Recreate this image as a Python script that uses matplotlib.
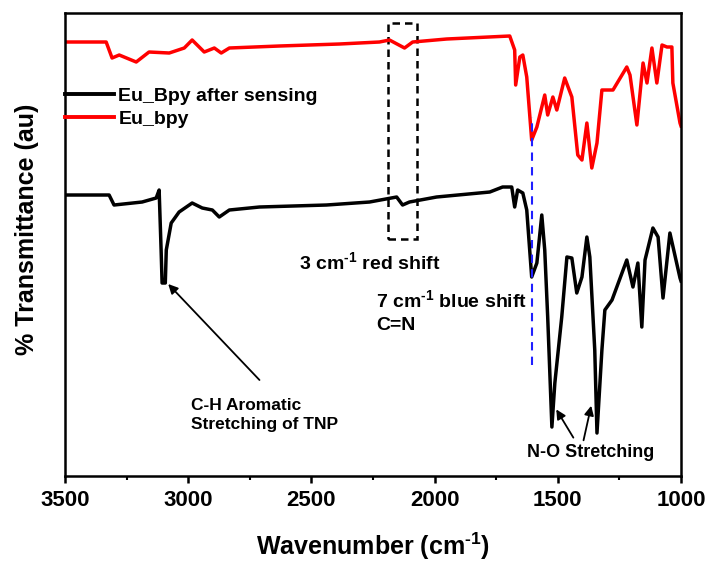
import matplotlib
matplotlib.use("Agg")
import matplotlib.pyplot as plt
from matplotlib.ticker import MultipleLocator
from matplotlib.patches import Rectangle

plt.rcParams['font.family'] = ['Liberation Sans', 'DejaVu Sans']
plt.rcParams['font.weight'] = 'bold'
plt.rcParams['mathtext.fontset'] = 'custom'
plt.rcParams['mathtext.rm'] = 'Liberation Sans:bold'
plt.rcParams['mathtext.bf'] = 'Liberation Sans:bold'
plt.rcParams['mathtext.it'] = 'Liberation Sans:bold'
plt.rcParams['mathtext.default'] = 'bf'

# Eu_bpy (red)
red_wn = [3500, 3333, 3309, 3280, 3211, 3159, 3077, 3016, 2984, 2935, 2894, 2866, 2833,
          2630, 2386, 2224, 2183, 2122, 2089, 1951, 1695, 1675, 1671, 1654, 1642, 1626,
          1606, 1585, 1553, 1541, 1520, 1504, 1472, 1443, 1419, 1402, 1382, 1362, 1341,
          1321, 1276, 1220, 1207, 1179, 1154, 1138, 1118, 1098, 1077, 1057, 1037, 1033,
          1004, 1000]
red_t = [434, 434, 418, 421, 414, 424, 423, 428, 436, 424, 428, 423, 428,
         430, 432, 434, 436, 428, 434, 437, 440, 426, 391, 419, 421, 399,
         336, 349, 381, 361, 379, 366, 398, 379, 321, 316, 353, 308, 333,
         386, 386, 409, 401, 351, 413, 393, 428, 393, 431, 429, 429, 393,
         353, 350]

# Eu_Bpy after sensing (black)
blk_wn = [3500, 3321, 3301, 3187, 3130, 3118, 3110, 3106, 3093, 3089, 3069, 3037, 2984,
          2943, 2902, 2874, 2833, 2711, 2439, 2264, 2154, 2130, 2102, 1992, 1776, 1724,
          1687, 1675, 1663, 1642, 1626, 1606, 1585, 1565, 1553, 1541, 1524, 1512, 1484,
          1463, 1443, 1423, 1402, 1382, 1370, 1350, 1341, 1321, 1309, 1280, 1220, 1195,
          1175, 1159, 1146, 1114, 1093, 1073, 1045, 1004, 1000]
blk_t = [281, 281, 271, 274, 278, 286, 226, 193, 193, 226, 253, 264, 273,
         268, 266, 259, 266, 269, 271, 274, 279, 271, 274, 279, 284, 289,
         289, 269, 286, 283, 266, 199, 213, 261, 226, 159, 49, 93, 159,
         219, 218, 183, 199, 239, 219, 126, 43, 126, 166, 176, 216, 189,
         213, 149, 216, 248, 239, 178, 243, 198, 195]

x_ticks = [3500, 3000, 2500, 2000, 1500, 1000]

fig = plt.figure(figsize=(7.09, 5.63), dpi=100)
ax = fig.add_axes([0.0917, 0.1545, 0.8688, 0.8224])

ax.plot(blk_wn, blk_t, color='black', lw=2.5, label='Eu_Bpy after sensing',
        solid_joinstyle='round')
ax.plot(red_wn, red_t, color='#ff0000', lw=2.5, label='Eu_bpy',
        solid_joinstyle='round')

ax.set_xlim(3500, 1000)
ax.set_ylim(0, 463)
ax.set_xticks(x_ticks)
ax.set_xticklabels([str(v) for v in x_ticks])
ax.xaxis.set_minor_locator(MultipleLocator(250))
ax.set_yticks([])

for s in ax.spines.values():
    s.set_linewidth(1.8)
ax.tick_params(axis='x', which='major', direction='out', length=5, width=1.8,
               labelsize=16, pad=5)
ax.tick_params(axis='x', which='minor', direction='out', length=3, width=1.5)
for lab in ax.get_xticklabels():
    lab.set_fontweight('bold')

ax.set_xlabel('Wavenumber (cm$^{\\text{-1}}$)', fontsize=18, fontweight='bold', labelpad=14)
ax.set_ylabel('% Transmittance (au)', fontsize=18, fontweight='bold')
ax.yaxis.set_label_coords(-0.043, 0.533)

leg = ax.legend(loc='upper left', bbox_to_anchor=(0.0, 0.84), frameon=False,
                borderpad=0, borderaxespad=0, handlelength=2.5, handletextpad=0.25,
                labelspacing=0.3, prop={'size': 14, 'weight': 'bold'})
for line in leg.get_lines():
    line.set_linewidth(2.8)

# dashed box
ax.add_patch(Rectangle((2191, 237), 2073 - 2191, 453 - 237, fill=False,
                       edgecolor='black', lw=1.8, ls=(0, (3, 2))))
# blue dashed line
ax.plot([1606, 1606], [111, 359], color='#1f1fff', lw=1.5, ls=(0, (4, 3)))

ax.text(2549, 214, '3 cm$^{\\text{-1}}$ red shift', fontsize=14, fontweight='bold',
        ha='left', va='center')
ax.text(2236, 176, '7 cm$^{\\text{-1}}$ blue shift', fontsize=14, fontweight='bold',
        ha='left', va='center')
ax.text(2236, 151, 'C=N', fontsize=14, fontweight='bold', ha='left', va='center')
ax.text(2990, 61, 'C-H Aromatic\nStretching of TNP', fontsize=12.5, fontweight='bold',
        ha='left', va='center', multialignment='left', linespacing=1.35)
ax.text(1366, 24, 'N-O Stretching', fontsize=13, fontweight='bold',
        ha='center', va='center')

arrow = dict(arrowstyle='-|>', color='black', lw=1.3, mutation_scale=14)
ax.annotate('', xy=(3089, 194), xytext=(2703, 94), arrowprops=arrow)
ax.annotate('', xy=(1512, 69), xytext=(1431, 36), arrowprops=arrow)
ax.annotate('', xy=(1362, 73), xytext=(1398, 33), arrowprops=arrow)

fig.savefig('out.png', dpi=100)
